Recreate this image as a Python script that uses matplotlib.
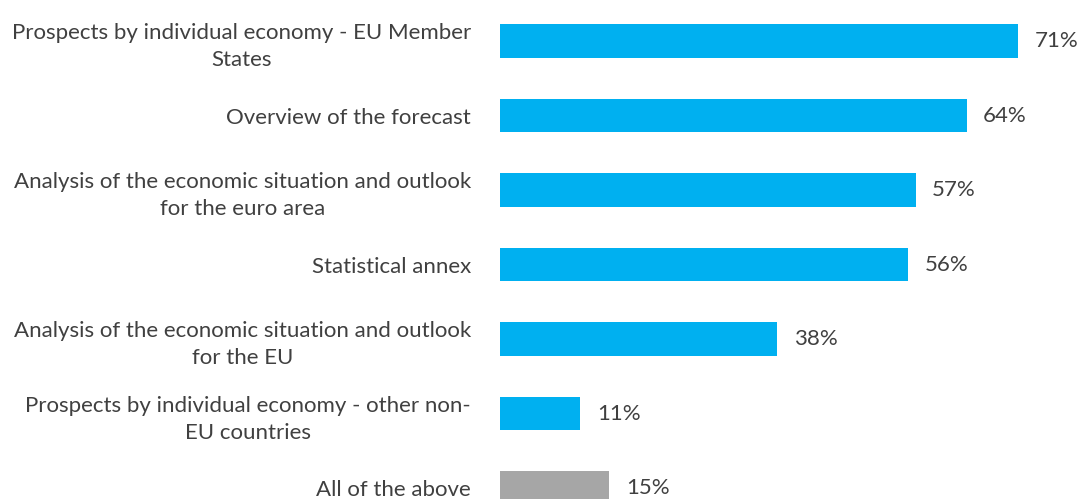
import matplotlib
matplotlib.use("Agg")
import matplotlib.pyplot as plt

categories = [
    "Prospects by individual economy - EU Member\nStates",
    "Overview of the forecast",
    "Analysis of the economic situation and outlook\nfor the euro area",
    "Statistical annex",
    "Analysis of the economic situation and outlook\nfor the EU",
    "Prospects by individual economy - other non-\nEU countries",
    "All of the above",
]
values = [71, 64, 57, 56, 38, 11, 15]
bar_colors = ["#00B0F0"] * 6 + ["#A6A6A6"]
value_labels = [f"{v}%" for v in values]

W, H = 1078, 499
fig = plt.figure(figsize=(W / 100, H / 100), dpi=100)
px_per_unit = 7.29
row = 74.5
left_px = 500
top_px = 41 - row / 2
ax_h_px = 7 * row
ax = fig.add_axes([left_px / W, 1 - (top_px + ax_h_px) / H, 80 * px_per_unit / W, ax_h_px / H])

font = "Lato"
txt_color = "#404040"
ypos = list(range(len(categories)))
ax.barh(ypos, values, height=0.45, color=bar_colors)
ax.set_xlim(0, 80)
ax.set_ylim(len(categories) - 0.5, -0.5)
ax.set_yticks(ypos)
ax.set_yticklabels(categories, fontsize=16, family=font, color=txt_color,
                   multialignment="center", linespacing=1.45)
ax.tick_params(axis="y", length=0, pad=21)
ax.set_xticks([])
for s in ax.spines.values():
    s.set_visible(False)
for y, v, lab in zip(ypos, values, value_labels):
    ax.annotate(lab, (v, y), xytext=(12, 0), textcoords="offset points",
                va="center", ha="left", fontsize=16, family=font, color=txt_color)

fig.savefig("out.png", dpi=100)
